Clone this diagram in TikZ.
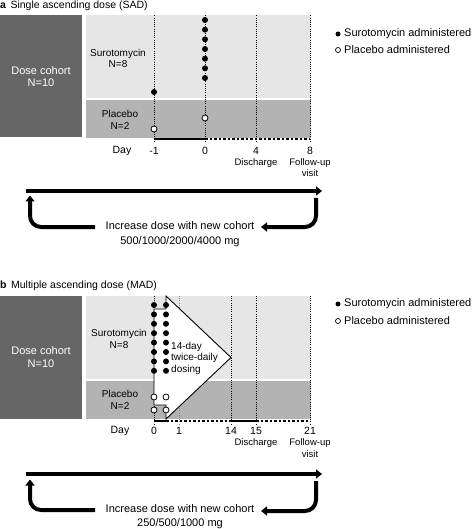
\documentclass[tikz,border=0pt]{standalone}
\usepackage{fontspec}
\setmainfont{Liberation Sans}
\usetikzlibrary{arrows.meta}
\definecolor{cohortgray}{HTML}{666666}
\definecolor{drugbg}{HTML}{E6E6E6}
\definecolor{placebg}{HTML}{B3B3B3}
\definecolor{dayonegray}{HTML}{8C8C8C}
\tikzset{
 cohortbox/.style={fill=cohortgray, text=white, inner sep=0pt, align=center, font=\fontsize{11}{12.5}\selectfont},
 armbox/.style={inner sep=0pt},
 armlabel/.style={align=center, font=\fontsize{10}{11.5}\selectfont, inner sep=0pt},
 daylabel/.style={font=\fontsize{10.5}{12}\selectfont, inner sep=0pt},
 smalllabel/.style={font=\fontsize{9.5}{11.5}\selectfont, inner sep=0pt, align=center, anchor=north},
 titletext/.style={font=\fontsize{10.5}{12}\selectfont, anchor=west, inner sep=0pt},
 legendtext/.style={font=\fontsize{11}{12}\selectfont, anchor=west, inner sep=0pt},
 dosetext/.style={font=\fontsize{10}{11.5}\selectfont, anchor=west, inner sep=0pt, align=left},
 looptext/.style={font=\fontsize{11}{14.5}\selectfont, inner sep=0pt, align=center},
 vdots/.style={line width=0.8pt, dash pattern=on 1pt off 1.2pt},
 fulldot/.style={circle, fill=black, inner sep=0pt, minimum size=6pt},
 emptydot/.style={circle, draw=black, fill=white, line width=0.8pt, inner sep=0pt, minimum size=6pt},
 legfull/.style={circle, fill=black, inner sep=0pt, minimum size=5pt},
 legempty/.style={circle, draw=black, fill=white, line width=0.7pt, inner sep=0pt, minimum size=5pt},
 axissolid/.style={line width=2pt},
 axisdash/.style={line width=2pt, dash pattern=on 2.5pt off 2pt},
 flowline/.style={line width=4pt, -{Triangle[length=6pt,width=9pt]}},
 loopline/.style={line width=4pt, rounded corners=11pt, -{Triangle[length=6pt,width=9pt]}},
 dosingarrow/.style={fill=white, draw=black, line width=0.9pt, line join=miter},
}
\begin{document}
\begin{tikzpicture}[x=1pt,y=-1pt]
\useasboundingbox (0,0) rectangle (472,529);

% ================= Panel a =================
\node[titletext] (titleA) at (0,6) {{\bfseries a}\hspace{4.5pt}Single ascending dose (SAD)};

\node[cohortbox, minimum width=82pt, minimum height=122pt] (cohA) at (41,76.5) {Dose cohort\\N=10};
\node[armbox, fill=drugbg, minimum width=225pt, minimum height=82.5pt] (drugA) at (198,56.75) {};
\node[armbox, fill=placebg, minimum width=225pt, minimum height=38pt] (placA) at (198,119) {};

\foreach \x in {154,205,256,310} \draw[vdots] (\x,15.5) -- (\x,143);
\coordinate (axA0) at (154,139.5);
\coordinate (axA1) at (205,139.5);
\coordinate (axA2) at (310,139.5);
\draw[axissolid] (axA0) -- (axA1);
\draw[axisdash] (axA1) -- (axA2);

\foreach \y [count=\i] in {20,29.7,39.3,49,58.7,68.3,78} \node[fulldot] (sa\i) at (205,\y) {};
\node[fulldot] (sam) at (154,92) {};
\node[emptydot] (pa0) at (205,118) {};
\node[emptydot] (pam) at (154,129) {};

\node[armlabel] (suroA) at (118,58.5) {Surotomycin\\N=8};
\node[armlabel] (placeA) at (120,120) {Placebo\\N=2};

\node[daylabel] (dayA) at (122,151) {Day};
\node[daylabel] (dAm1) at (154,151) {-1};
\node[daylabel] (dA0) at (205,151) {0};
\node[daylabel] (dA4) at (256,151) {4};
\node[daylabel] (dA8) at (310,151) {8};
\node[smalllabel] (discA) at (256,158) {Discharge};
\node[smalllabel] (fuA) at (310,158) {Follow-up\\visit};

\node[legfull] (lgA1) at (338,34) {};
\node[legendtext] (lgA1t) at (344,34) {Surotomycin administered};
\node[legempty] (lgA2) at (338,50) {};
\node[legendtext] (lgA2t) at (344,50) {Placebo administered};

\coordinate (mainAs) at (26,191);
\coordinate (mainAe) at (322,191);
\draw[flowline] (mainAs) -- (mainAe);
\coordinate (rlAs) at (316,198);
\coordinate (rlAe) at (261,227);
\draw[loopline] (rlAs) |- (rlAe);
\coordinate (llAs) at (95,227);
\coordinate (llAe) at (30,195.5);
\draw[loopline] (llAs) -| (llAe);
\node[looptext] (incA) at (180,234) {Increase dose with new cohort\\500/1000/2000/4000 mg};

% ================= Panel b =================
\node[titletext] (titleB) at (0,286) {{\bfseries b}\hspace{4.5pt}Multiple ascending dose (MAD)};

\node[cohortbox, minimum width=82pt, minimum height=122.5pt] (cohB) at (41,357.25) {Dose cohort\\N=10};
\node[armbox, fill=drugbg, minimum width=225pt, minimum height=82.5pt] (drugB) at (198,337.25) {};
\node[armbox, fill=placebg, minimum width=225pt, minimum height=38pt] (placB) at (198,399.5) {};

\draw[vdots, draw=dayonegray] (179,296) -- (179,424);
\foreach \x in {154,231,256,310} \draw[vdots] (\x,296) -- (\x,424);

\coordinate (dsA) at (154,309);
\coordinate (dsB) at (166,309);
\coordinate (dsC) at (166,296);
\coordinate (dsTip) at (231,357.5);
\coordinate (dsD) at (166,419);
\coordinate (dsE) at (166,405);
\coordinate (dsF) at (154,405);
\draw[dosingarrow] (dsA) -- (dsB) -- (dsC) -- (dsTip) -- (dsD) -- (dsE) -- (dsF) -- cycle;

\coordinate (axB0) at (154,420.5);
\coordinate (axB1) at (166,420.5);
\coordinate (axB2) at (231,420.5);
\coordinate (axB3) at (256,420.5);
\coordinate (axB4) at (310,420.5);
\draw[axissolid] (axB0) -- (axB1);
\draw[axisdash] (axB1) -- (axB2);
\draw[axissolid] (axB2) -- (axB3);
\draw[axisdash] (axB3) -- (axB4);

\foreach \y [count=\i] in {305,314.4,323.8,333.2,342.6,352,361.4,370.8} {
  \node[fulldot] (sbl\i) at (154,\y) {};
  \node[fulldot] (sbr\i) at (166,\y) {};
}
\node[emptydot] (pbl1) at (154,397) {};
\node[emptydot] (pbl2) at (154,410) {};
\node[emptydot] (pbr1) at (166,397) {};
\node[emptydot] (pbr2) at (166,410) {};

\node[dosetext] (dosing) at (171,358) {14-day\\twice-daily\\dosing};

\node[armlabel] (suroB) at (119,339) {Surotomycin\\N=8};
\node[armlabel] (placeB) at (120,400) {Placebo\\N=2};

\node[daylabel] (dayB) at (120,431) {Day};
\node[daylabel] (dB0) at (154,431) {0};
\node[daylabel] (dB1) at (179,431) {1};
\node[daylabel] (dB14) at (231,431) {14};
\node[daylabel] (dB15) at (256,431) {15};
\node[daylabel] (dB21) at (310,431) {21};
\node[smalllabel] (discB) at (256,438.5) {Discharge};
\node[smalllabel] (fuB) at (310,438.5) {Follow-up\\visit};

\node[legfull] (lgB1) at (338,304) {};
\node[legendtext] (lgB1t) at (344,304) {Surotomycin administered};
\node[legempty] (lgB2) at (338,321) {};
\node[legendtext] (lgB2t) at (344,321) {Placebo administered};

\coordinate (mainBs) at (26,474);
\coordinate (mainBe) at (322,474);
\draw[flowline] (mainBs) -- (mainBe);
\coordinate (rlBs) at (316,481);
\coordinate (rlBe) at (261,511);
\draw[loopline] (rlBs) |- (rlBe);
\coordinate (llBs) at (95,510);
\coordinate (llBe) at (30,479.5);
\draw[loopline] (llBs) -| (llBe);
\node[looptext] (incB) at (180,516.5) {Increase dose with new cohort\\250/500/1000 mg};
\end{tikzpicture}
\end{document}
